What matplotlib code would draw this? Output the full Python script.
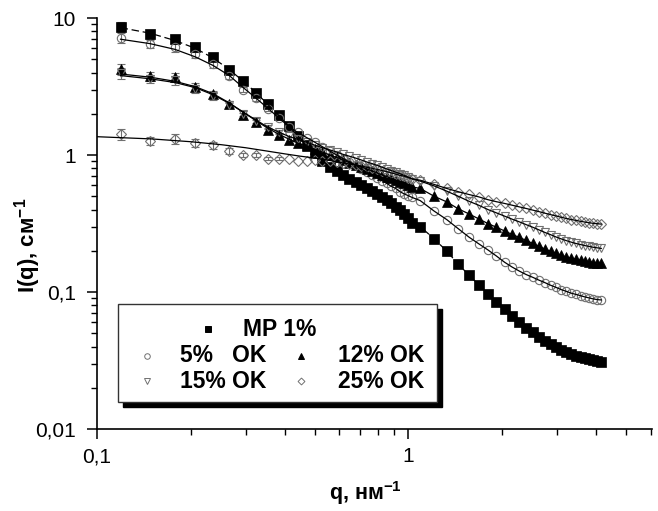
import matplotlib
matplotlib.use("Agg")
import matplotlib.pyplot as plt
from matplotlib.lines import Line2D
from matplotlib.patches import Rectangle
from matplotlib.ticker import LogLocator, FuncFormatter, NullFormatter

plt.rcParams["font.family"] = ["Liberation Sans", "DejaVu Sans"]
plt.rcParams["mathtext.fontset"] = "custom"
plt.rcParams["mathtext.rm"] = "Liberation Sans:bold"

# scattering vector, nm^-1 (two detector ranges merged)
q = [0.119, 0.148, 0.178, 0.207, 0.236, 0.266, 0.295, 0.324, 0.353, 0.383,
     0.412, 0.441, 0.471, 0.500, 0.529, 0.559, 0.588, 0.617, 0.646, 0.676,
     0.705, 0.734, 0.764, 0.793, 0.822, 0.852, 0.881, 0.910, 0.939, 0.969,
     0.998, 1.027,
     1.090, 1.208, 1.326, 1.444, 1.562, 1.680, 1.798, 1.916, 2.034, 2.152,
     2.270, 2.388, 2.506, 2.624, 2.742, 2.860, 2.978, 3.096, 3.214, 3.332,
     3.450, 3.568, 3.686, 3.804, 3.922, 4.040, 4.158]

i_mp1 = [8.55, 7.6, 7.0, 6.1, 5.15, 4.2, 3.45, 2.85, 2.35, 1.95,
         1.63, 1.38, 1.18, 1.03, 0.91, 0.82, 0.76, 0.71, 0.67, 0.635,
         0.60, 0.57, 0.545, 0.52, 0.495, 0.47, 0.445, 0.42, 0.395, 0.37,
         0.345, 0.32,
         0.30, 0.245, 0.199, 0.16, 0.133, 0.113, 0.097, 0.085, 0.075, 0.067,
         0.060, 0.055, 0.051, 0.047, 0.044, 0.042, 0.040, 0.038, 0.0365, 0.035,
         0.034, 0.0335, 0.033, 0.0325, 0.032, 0.0315, 0.031]

i_ok5 = [7.2, 6.45, 6.1, 5.5, 4.6, 3.75, 3.0, 2.6, 2.15, 1.85,
         1.6, 1.46, 1.34, 1.24, 1.15, 1.07, 1.00, 0.94, 0.89, 0.84,
         0.79, 0.75, 0.71, 0.68, 0.65, 0.62, 0.59, 0.57, 0.54, 0.52,
         0.505, 0.49,
         0.465, 0.39, 0.338, 0.29, 0.252, 0.225, 0.203, 0.183, 0.165, 0.152,
         0.142, 0.134, 0.128, 0.122, 0.117, 0.112, 0.108, 0.104, 0.101, 0.098,
         0.096, 0.094, 0.092, 0.0905, 0.089, 0.088, 0.0875]

i_ok12 = [4.25, 3.75, 3.7, 3.15, 2.78, 2.35, 1.95, 1.73, 1.52, 1.40,
          1.29, 1.22, 1.16, 1.10, 1.05, 1.00, 0.96, 0.92, 0.88, 0.85,
          0.82, 0.79, 0.765, 0.74, 0.715, 0.695, 0.675, 0.655, 0.635, 0.62,
          0.60, 0.585,
          0.57, 0.50, 0.455, 0.405, 0.372, 0.342, 0.316, 0.297, 0.279, 0.263,
          0.25, 0.238, 0.226, 0.215, 0.206, 0.198, 0.191, 0.185, 0.180, 0.176,
          0.173, 0.170, 0.168, 0.166, 0.164, 0.163, 0.162]

i_ok15 = [3.95, 3.6, 3.5, 3.05, 2.68, 2.3, 2.0, 1.78, 1.6, 1.47,
          1.37, 1.3, 1.24, 1.18, 1.13, 1.09, 1.05, 1.01, 0.98, 0.95,
          0.92, 0.89, 0.865, 0.84, 0.815, 0.79, 0.77, 0.75, 0.73, 0.71,
          0.69, 0.67,
          0.645, 0.595, 0.545, 0.50, 0.46, 0.43, 0.40, 0.378, 0.358, 0.34,
          0.325, 0.31, 0.297, 0.284, 0.272, 0.262, 0.252, 0.244, 0.237, 0.231,
          0.226, 0.222, 0.218, 0.215, 0.212, 0.21, 0.208]

i_ok25 = [1.42, 1.27, 1.31, 1.22, 1.18, 1.07, 1.0, 1.0, 0.94, 0.94,
          0.94, 0.90, 0.91, 0.92, 0.91, 0.90, 0.89, 0.875, 0.86, 0.845,
          0.83, 0.815, 0.80, 0.785, 0.77, 0.755, 0.74, 0.725, 0.71, 0.70,
          0.685, 0.67,
          0.655, 0.61, 0.57, 0.54, 0.515, 0.495, 0.472, 0.456, 0.443, 0.43,
          0.418, 0.407, 0.396, 0.386, 0.376, 0.367, 0.359, 0.351, 0.344, 0.338,
          0.333, 0.328, 0.324, 0.32, 0.317, 0.315, 0.313]

# fitted curves in the low-q part (first 11 q points); above it they follow the data
fit_mp1 = [8.5, 7.75, 6.85, 6.0, 5.1, 4.2, 3.45, 2.85, 2.35, 1.95, 1.63]
fit_ok5 = [7.0, 6.5, 5.9, 5.2, 4.5, 3.8, 3.1, 2.6, 2.2, 1.87, 1.62]
fit_ok12 = [3.9, 3.7, 3.45, 3.15, 2.8, 2.4, 2.05, 1.78, 1.57, 1.42, 1.31]
fit_ok15 = [3.8, 3.6, 3.38, 3.1, 2.75, 2.38, 2.05, 1.8, 1.6, 1.47, 1.37]

# the 25% OK fit starts at the left edge of the axis
fit25_q = [0.1, 0.15, 0.2, 0.25, 0.3, 0.35, 0.4, 0.45, 0.5, 0.55, 0.588]
fit25_i = [1.36, 1.31, 1.25, 1.19, 1.13, 1.07, 1.02, 0.98, 0.95, 0.92, 0.89]

# relative error bars on the first low-q points
err_rel = [0.09, 0.07, 0.08, 0.07, 0.06, 0.05, 0.04, 0.04, 0.03, 0.03]

GRAY = "#707070"

fig = plt.figure(figsize=(6.58, 5.11), dpi=100)
ax = fig.add_axes([97 / 658, 1 - 429 / 511, 555 / 658, 411 / 511])

series = [
    (i_mp1, dict(marker="s", ms=7, mfc="black", mec="black", mew=0.5)),
    (i_ok5, dict(marker="o", ms=6, mfc="none", mec=GRAY, mew=0.8)),
    (i_ok12, dict(marker="^", ms=6.5, mfc="black", mec="black", mew=0.5)),
    (i_ok15, dict(marker="v", ms=6, mfc="none", mec=GRAY, mew=0.8)),
    (i_ok25, dict(marker="D", ms=5, mfc="none", mec=GRAY, mew=0.8)),
]

n_err = len(err_rel)
for vals, style in series:
    ax.errorbar(q[:n_err], vals[:n_err], yerr=[v * e for v, e in zip(vals, err_rel)],
                fmt="none", ecolor=GRAY, elinewidth=0.8, capsize=3, capthick=0.8, zorder=2)
    ax.plot(q, vals, linestyle="none", zorder=3, **style)

# fit lines
for fit, vals, dash in [(fit_mp1, i_mp1, (6, 3)), (fit_ok5, i_ok5, None),
                        (fit_ok12, i_ok12, None), (fit_ok15, i_ok15, None)]:
    n = len(fit)
    line, = ax.plot(q, fit + vals[n:], color="black", lw=0.9, zorder=4)
    if dash:
        line.set_dashes(dash)
q25 = fit25_q + [v for v in q if v > fit25_q[-1]]
i25 = fit25_i + [v for x, v in zip(q, i_ok25) if x > fit25_q[-1]]
ax.plot(q25, i25, color="black", lw=0.9, zorder=4)

ax.set_xscale("log")
ax.set_yscale("log")
ax.set_xlim(0.1, 6.05)
ax.set_ylim(0.01, 10)

for side in ("top", "right"):
    ax.spines[side].set_visible(False)
for side in ("left", "bottom"):
    ax.spines[side].set_linewidth(1.2)

fmt = FuncFormatter(lambda v, pos: f"{v:g}".replace(".", ","))
ax.xaxis.set_major_locator(LogLocator(base=10))
ax.yaxis.set_major_locator(LogLocator(base=10))
ax.xaxis.set_minor_locator(LogLocator(base=10, subs=range(2, 10)))
ax.yaxis.set_minor_locator(LogLocator(base=10, subs=range(2, 10)))
ax.xaxis.set_major_formatter(fmt)
ax.yaxis.set_major_formatter(fmt)
ax.xaxis.set_minor_formatter(NullFormatter())
ax.yaxis.set_minor_formatter(NullFormatter())
ax.tick_params(which="major", direction="out", length=7, width=1.1, labelsize=15)
ax.tick_params(which="minor", direction="out", length=4, width=1.0)
ax.tick_params(axis="y", which="major", pad=8)
ax.tick_params(axis="x", which="major", pad=6)


def fx(px):
    return px / 658


def fy(py):
    return 1 - py / 511


# axis titles placed in figure pixels
fig.text(fx(365), fy(493), r"q, нм$\mathregular{^{-1}}$", fontsize=15.5, fontweight="bold",
         ha="center", va="center")
fig.text(fx(28), fy(245), r"I(q), см$\mathregular{^{-1}}$", fontsize=16, fontweight="bold",
         ha="center", va="center", rotation=90)

# legend box with drop shadow
box_l, box_t, box_r, box_b = 118, 304, 437, 402
fig.patches.append(Rectangle((fx(box_l + 5), fy(box_b + 5)), fx(box_r - box_l), fy(box_t) - fy(box_b),
                             transform=fig.transFigure, facecolor="black", edgecolor="black", zorder=5))
fig.patches.append(Rectangle((fx(box_l), fy(box_b)), fx(box_r - box_l), fy(box_t) - fy(box_b),
                             transform=fig.transFigure, facecolor="white", edgecolor="#333333",
                             lw=1.0, zorder=6))

legend_rows = [
    ("s", "black", "black", 208, 329, "MP 1%", 243),
    ("o", "none", GRAY, 147, 356, "5%   OK", 180),
    ("^", "black", "black", 301, 356, "12% OK", 338),
    ("v", "none", GRAY, 147, 381, "15% OK", 180),
    ("D", "none", GRAY, 301, 381, "25% OK", 338),
]
for mk, fc, ec, mx, my, label, tx in legend_rows:
    fig.lines.append(Line2D([fx(mx)], [fy(my)], transform=fig.transFigure, marker=mk,
                            ms=4 if mk != "D" else 3.5, mfc=fc, mec=ec, mew=0.7,
                            linestyle="none", zorder=7))
    fig.text(fx(tx), fy(my), label, fontsize=16.5, fontweight="bold", va="center",
             ha="left", zorder=7)

fig.savefig("out.png", dpi=100)
